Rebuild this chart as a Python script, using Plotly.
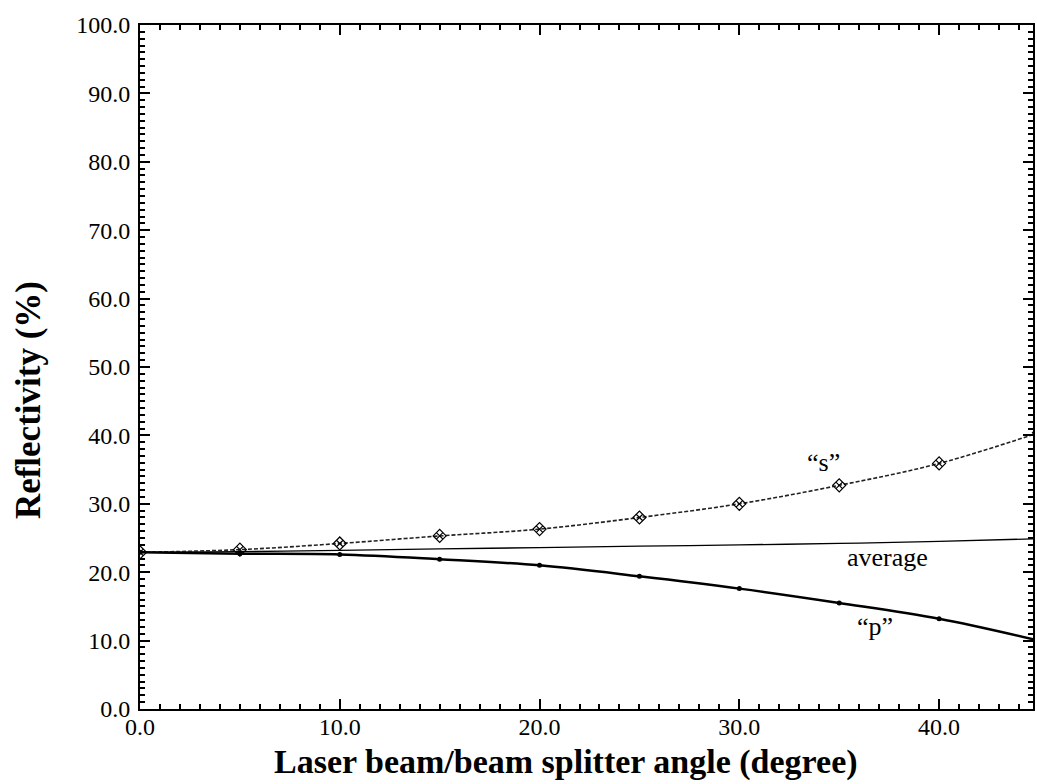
import plotly.graph_objects as go

angle = [0, 5, 10, 15, 20, 25, 30, 35, 40, 45]
s_refl = [22.9, 23.3, 24.2, 25.3, 26.3, 28.0, 30.0, 32.7, 35.9, 40.4]
p_refl = [22.9, 22.7, 22.6, 21.9, 21.0, 19.4, 17.6, 15.5, 13.2, 10.0]
avg_refl = [22.9, 23.0, 23.2, 23.4, 23.6, 23.8, 24.0, 24.2, 24.5, 24.9]

y_ticks = [0, 10, 20, 30, 40, 50, 60, 70, 80, 90, 100]
x_ticks = [0, 10, 20, 30, 40]

FONT = "Liberation Serif"

fig = go.Figure()
fig.add_trace(go.Scatter(x=angle, y=avg_refl, mode="lines", line=dict(color="black", width=1.3, shape="spline"),
                         showlegend=False, hoverinfo="skip"))
fig.add_trace(go.Scatter(x=angle, y=s_refl, mode="lines+markers",
                         line=dict(color="#222", width=1.6, dash="4px,2px", shape="spline"),
                         marker=dict(symbol="diamond-x-open", size=10, color="black", line=dict(width=1.2)),
                         showlegend=False))
fig.add_trace(go.Scatter(x=angle, y=p_refl, mode="lines+markers",
                         line=dict(color="black", width=2.5, shape="spline"),
                         marker=dict(symbol="circle", size=5, color="black"),
                         showlegend=False))

fig.add_annotation(x=34.2, y=36.0, text="\u201cs\u201d", showarrow=False,
                   font=dict(family=FONT, size=26, color="black"))
fig.add_annotation(x=37.4, y=22.2, text="average", showarrow=False,
                   font=dict(family=FONT, size=26, color="black"))
fig.add_annotation(x=36.8, y=12.0, text="\u201cp\u201d", showarrow=False,
                   font=dict(family=FONT, size=26, color="black"))

# axis titles
fig.add_annotation(xref="paper", yref="paper", x=0.477, y=-0.077, xanchor="center", yanchor="middle",
                   text="<b>Laser beam/beam splitter angle (degree)</b>", showarrow=False,
                   font=dict(family=FONT, size=34, color="black"))
fig.add_annotation(xref="paper", yref="paper", x=-0.124, y=0.452, xanchor="center", yanchor="middle",
                   text="<b>Reflectivity (%)</b>", showarrow=False, textangle=-90,
                   font=dict(family=FONT, size=35, color="black"))

axis_common = dict(showline=True, linecolor="black", linewidth=2, mirror="ticks",
                   ticks="inside", ticklen=10, tickwidth=2, tickcolor="black",
                   showgrid=False, zeroline=False,
                   tickfont=dict(family=FONT, size=24, color="black"),
                   tickformat=".1f")

fig.update_xaxes(range=[0, 44.7], tickvals=x_ticks, ticklabelstandoff=-5,
                 minor=dict(ticks="inside", dtick=1, ticklen=5, tickwidth=1.5, tickcolor="black"),
                 **axis_common)
fig.update_yaxes(range=[0, 100], tickvals=y_ticks, ticklabelstandoff=3,
                 minor=dict(ticks="inside", dtick=1, ticklen=5, tickwidth=1.5, tickcolor="black"),
                 **axis_common)

fig.update_layout(width=1037, height=784, margin=dict(l=140, r=2, t=25, b=75),
                  plot_bgcolor="white", paper_bgcolor="white")

fig.write_html("out.html")
